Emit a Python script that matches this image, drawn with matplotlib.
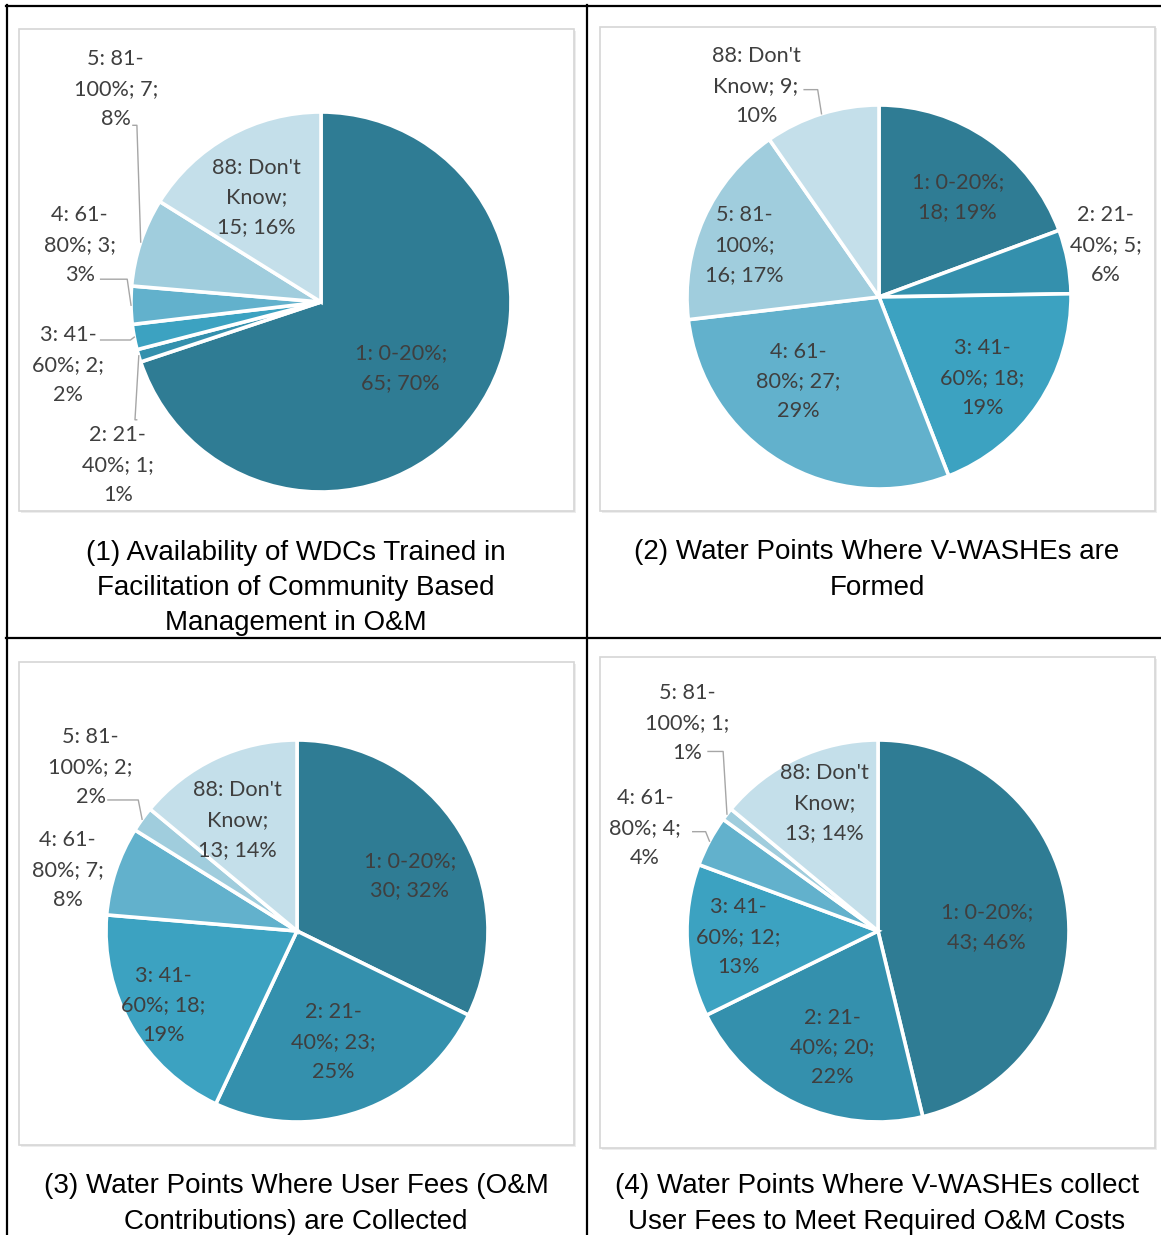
import matplotlib
matplotlib.use("Agg")
import matplotlib.pyplot as plt
from matplotlib.patches import Rectangle
from matplotlib.lines import Line2D
import numpy as np

W, H = 1161, 1235

# ---------------- data ----------------
categories = ["1: 0-20%", "2: 21-40%", "3: 41-60%", "4: 61-80%", "5: 81-100%", "88: Don't Know"]

counts1 = [65, 1, 2, 3, 7, 15]
labels1 = ["1: 0-20%;\n65; 70%", "2: 21-\n40%; 1;\n1%", "3: 41-\n60%; 2;\n2%",
           "4: 61-\n80%; 3;\n3%", "5: 81-\n100%; 7;\n8%", "88: Don't\nKnow;\n15; 16%"]
title1 = "(1) Availability of WDCs Trained in\nFacilitation of Community Based\nManagement in O&M"

counts2 = [18, 5, 18, 27, 16, 9]
labels2 = ["1: 0-20%;\n18; 19%", "2: 21-\n40%; 5;\n6%", "3: 41-\n60%; 18;\n19%",
           "4: 61-\n80%; 27;\n29%", "5: 81-\n100%;\n16; 17%", "88: Don't\nKnow; 9;\n10%"]
title2 = "(2) Water Points Where V-WASHEs are\nFormed"

counts3 = [30, 23, 18, 7, 2, 13]
labels3 = ["1: 0-20%;\n30; 32%", "2: 21-\n40%; 23;\n25%", "3: 41-\n60%; 18;\n19%",
           "4: 61-\n80%; 7;\n8%", "5: 81-\n100%; 2;\n2%", "88: Don't\nKnow;\n13; 14%"]
title3 = "(3) Water Points Where User Fees (O&M\nContributions) are Collected"

counts4 = [43, 20, 12, 4, 1, 13]
labels4 = ["1: 0-20%;\n43; 46%", "2: 21-\n40%; 20;\n22%", "3: 41-\n60%; 12;\n13%",
           "4: 61-\n80%; 4;\n4%", "5: 81-\n100%; 1;\n1%", "88: Don't\nKnow;\n13; 14%"]
title4 = "(4) Water Points Where V-WASHEs collect\nUser Fees to Meet Required O&M Costs"

# ---------------- style ----------------
colors = ["#2F7C94", "#3490AD", "#3CA2C1", "#62B1CC", "#A0CDDD", "#C4DFEA"]
label_color = "#3F3F3F"
leader_color = "#A6A6A6"

panels = [
    dict(counts=counts1, labels=labels1, title=title1, c=(321, 302), R=190,
         box=(19, 29, 574, 511), tc=(296, 588),
         pos=[(0.42, -0.35), (-1.07, -0.86), (-1.33, -0.33), (-1.27, 0.30), (-1.08, 1.12), (-0.34, 0.55)],
         lead=[None, (-0.97, -0.62), (-1.16, -0.20), (-1.16, 0.12), (-0.99, 0.93), None]),
    dict(counts=counts2, labels=labels2, title=title2, c=(879, 297), R=192,
         box=(600, 27, 1155, 511), tc=(877, 570),
         pos=[(0.41, 0.52), (1.18, 0.27), (0.54, -0.42), (-0.42, -0.44), (-0.70, 0.27), (-0.64, 1.10)],
         lead=[None, None, None, None, None, (-0.39, 1.08)]),
    dict(counts=counts3, labels=labels3, title=title3, c=(297, 931), R=191,
         box=(19, 662, 574, 1145), tc=(296, 1204),
         pos=[(0.59, 0.29), (0.19, -0.58), (-0.70, -0.39), (-1.20, 0.32), (-1.08, 0.86), (-0.31, 0.58)],
         lead=[None, None, None, None, (-0.99, 0.686), None]),
    dict(counts=counts4, labels=labels4, title=title4, c=(878, 931), R=191,
         box=(600, 657, 1155, 1148), tc=(877, 1204),
         pos=[(0.57, 0.02), (-0.24, -0.61), (-0.73, -0.03), (-1.22, 0.54), (-1.00, 1.09), (-0.28, 0.67)],
         lead=[None, None, None, (-0.97, 0.52), (-0.89, 0.94), None]),
]

fig = plt.figure(figsize=(W / 100, H / 100), dpi=100)


def fx(x):
    return x / W


def fy(y):
    return 1 - y / H


# table grid lines
grid_kw = dict(color="black", lw=1.6, transform=fig.transFigure)
fig.add_artist(Line2D([fx(7), fx(7)], [fy(5), fy(1235)], **grid_kw))
fig.add_artist(Line2D([fx(587), fx(587)], [fy(5), fy(1235)], **grid_kw))
fig.add_artist(Line2D([fx(6), fx(1161)], [fy(6), fy(6)], **grid_kw))
fig.add_artist(Line2D([fx(6), fx(1161)], [fy(638), fy(638)], **grid_kw))

for p in panels:
    x0, y0, x1, y1 = p["box"]
    fig.add_artist(Rectangle((fx(x0) + 1.5 / W, fy(y1) - 1.5 / H), (x1 - x0) / W, (y1 - y0) / H,
                             transform=fig.transFigure, facecolor="#EDEDED", edgecolor="none", zorder=0))
    fig.add_artist(Rectangle((fx(x0), fy(y1)), (x1 - x0) / W, (y1 - y0) / H,
                             transform=fig.transFigure, facecolor="white", edgecolor="#D6D6D6",
                             lw=1.2, zorder=0.5))

    cx, cy = p["c"]
    R = p["R"]
    k = 1.3
    half = k * R
    ax = fig.add_axes([fx(cx - half), fy(cy + half), 2 * half / W, 2 * half / H])
    ax.set_zorder(2)
    counts = p["counts"]
    ax.pie(counts, colors=colors, startangle=90, counterclock=False,
           wedgeprops=dict(edgecolor="white", linewidth=2.6))
    ax.set_xlim(-k, k)
    ax.set_ylim(-k, k)
    ax.set_aspect("equal")
    ax.axis("off")

    total = float(sum(counts))
    cum = np.cumsum([0] + list(counts))
    for i, lab in enumerate(p["labels"]):
        dx, dy = p["pos"][i]
        ax.text(dx, dy, lab, ha="center", va="center", multialignment="center",
                fontsize=15.6, family=["Lato", "DejaVu Sans"], color=label_color,
                linespacing=1.62, zorder=5)
        if p["lead"][i] is not None:
            mid = (cum[i] + cum[i + 1]) / 2 / total
            ang = np.deg2rad(90 - 360 * mid)
            ex, ey = np.cos(ang) * 1.0, np.sin(ang) * 1.0
            sx, sy = p["lead"][i]
            ax.plot([sx, ex - 0.02 if ex > sx else ex + 0.02, ex], [sy, sy, ey],
                    color=leader_color, lw=1.0, zorder=4, clip_on=False)

    tx, ty = p["tc"]
    fig.text(fx(tx), fy(ty), p["title"], ha="center", va="center", multialignment="center",
             fontsize=20, family=["Liberation Sans", "DejaVu Sans"], color="black",
             linespacing=1.46)

fig.savefig("out.png", dpi=100)
